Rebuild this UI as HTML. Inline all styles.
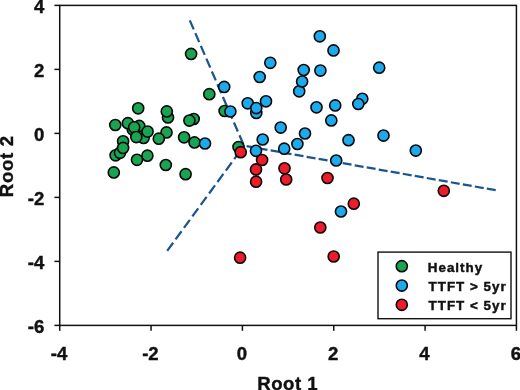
<!DOCTYPE html>
<html><head><meta charset="utf-8"><title>Root plot</title>
<style>
html,body{margin:0;padding:0;background:#fff;}
body{width:520px;height:390px;overflow:hidden;}
svg{display:block;filter:blur(0.4px);}
text{font-family:"Liberation Sans",sans-serif;font-weight:bold;fill:#111;}
</style></head><body>
<div style="will-change:transform;width:520px;height:390px;">
<svg width="520" height="390" viewBox="0 0 520 390">
<rect x="0" y="0" width="520" height="390" fill="#fff"/>
<g fill="none" stroke="#1a5590" stroke-width="2.25">
<line x1="189.8" y1="20.4" x2="244.0" y2="145.7" stroke-dasharray="9.8 4.1"/>
<line x1="167.2" y1="250.8" x2="244.0" y2="145.7" stroke-dasharray="10 4.2"/>
<line x1="495.7" y1="190.2" x2="244.0" y2="145.7" stroke-dasharray="9.0 3.2"/>
</g>
<g stroke="#0a0a0a" stroke-width="1.6">
<circle cx="191.1" cy="53.9" r="5.55" fill="#19a452"/>
<circle cx="209.3" cy="94.2" r="5.55" fill="#19a452"/>
<circle cx="138.2" cy="108.3" r="5.55" fill="#19a452"/>
<circle cx="168.0" cy="117.5" r="5.55" fill="#19a452"/>
<circle cx="166.8" cy="111.4" r="5.55" fill="#19a452"/>
<circle cx="193.7" cy="119.0" r="5.55" fill="#19a452"/>
<circle cx="189.4" cy="120.6" r="5.55" fill="#19a452"/>
<circle cx="115.3" cy="125.0" r="5.55" fill="#19a452"/>
<circle cx="132.8" cy="129.4" r="5.55" fill="#19a452"/>
<circle cx="127.9" cy="123.2" r="5.55" fill="#19a452"/>
<circle cx="139.2" cy="125.9" r="5.55" fill="#19a452"/>
<circle cx="134.2" cy="127.3" r="5.55" fill="#19a452"/>
<circle cx="143.6" cy="138.0" r="5.55" fill="#19a452"/>
<circle cx="136.3" cy="137.1" r="5.55" fill="#19a452"/>
<circle cx="147.6" cy="131.6" r="5.55" fill="#19a452"/>
<circle cx="166.5" cy="132.4" r="5.55" fill="#19a452"/>
<circle cx="158.8" cy="138.7" r="5.55" fill="#19a452"/>
<circle cx="184.1" cy="137.3" r="5.55" fill="#19a452"/>
<circle cx="194.5" cy="142.4" r="5.55" fill="#19a452"/>
<circle cx="123.1" cy="141.3" r="5.55" fill="#19a452"/>
<circle cx="115.6" cy="155.3" r="5.55" fill="#19a452"/>
<circle cx="120.0" cy="152.8" r="5.55" fill="#19a452"/>
<circle cx="123.1" cy="147.9" r="5.55" fill="#19a452"/>
<circle cx="147.4" cy="155.7" r="5.55" fill="#19a452"/>
<circle cx="137.0" cy="159.8" r="5.55" fill="#19a452"/>
<circle cx="165.8" cy="165.0" r="5.55" fill="#19a452"/>
<circle cx="113.8" cy="172.4" r="5.55" fill="#19a452"/>
<circle cx="185.6" cy="174.2" r="5.55" fill="#19a452"/>
<circle cx="224.6" cy="111.0" r="5.55" fill="#19a452"/>
<circle cx="238.5" cy="147.0" r="5.55" fill="#19a452"/>
<circle cx="205.0" cy="143.5" r="5.55" fill="#1caaee"/>
<circle cx="224.2" cy="86.9" r="5.55" fill="#1caaee"/>
<circle cx="230.4" cy="111.5" r="5.55" fill="#1caaee"/>
<circle cx="247.7" cy="103.3" r="5.55" fill="#1caaee"/>
<circle cx="266.0" cy="101.3" r="5.55" fill="#1caaee"/>
<circle cx="256.3" cy="112.9" r="5.55" fill="#1caaee"/>
<circle cx="256.3" cy="108.1" r="5.55" fill="#1caaee"/>
<circle cx="259.7" cy="77.0" r="5.55" fill="#1caaee"/>
<circle cx="270.3" cy="62.8" r="5.55" fill="#1caaee"/>
<circle cx="280.7" cy="127.6" r="5.55" fill="#1caaee"/>
<circle cx="262.7" cy="139.5" r="5.55" fill="#1caaee"/>
<circle cx="256.0" cy="150.8" r="5.55" fill="#1caaee"/>
<circle cx="284.2" cy="148.7" r="5.55" fill="#1caaee"/>
<circle cx="319.8" cy="36.3" r="5.55" fill="#1caaee"/>
<circle cx="333.5" cy="50.4" r="5.55" fill="#1caaee"/>
<circle cx="299.2" cy="91.3" r="5.55" fill="#1caaee"/>
<circle cx="302.1" cy="81.5" r="5.55" fill="#1caaee"/>
<circle cx="303.7" cy="70.0" r="5.55" fill="#1caaee"/>
<circle cx="320.4" cy="70.6" r="5.55" fill="#1caaee"/>
<circle cx="379.2" cy="67.7" r="5.55" fill="#1caaee"/>
<circle cx="316.5" cy="107.3" r="5.55" fill="#1caaee"/>
<circle cx="335.2" cy="105.4" r="5.55" fill="#1caaee"/>
<circle cx="362.3" cy="98.8" r="5.55" fill="#1caaee"/>
<circle cx="358.3" cy="104.0" r="5.55" fill="#1caaee"/>
<circle cx="331.3" cy="120.4" r="5.55" fill="#1caaee"/>
<circle cx="305.0" cy="133.5" r="5.55" fill="#1caaee"/>
<circle cx="297.4" cy="144.0" r="5.55" fill="#1caaee"/>
<circle cx="348.5" cy="140.2" r="5.55" fill="#1caaee"/>
<circle cx="383.5" cy="135.6" r="5.55" fill="#1caaee"/>
<circle cx="415.8" cy="150.6" r="5.55" fill="#1caaee"/>
<circle cx="336.2" cy="160.5" r="5.55" fill="#1caaee"/>
<circle cx="341.0" cy="211.5" r="5.55" fill="#1caaee"/>
<circle cx="240.7" cy="152.2" r="5.55" fill="#ee1c2a"/>
<circle cx="256.0" cy="169.4" r="5.55" fill="#ee1c2a"/>
<circle cx="262.1" cy="160.0" r="5.55" fill="#ee1c2a"/>
<circle cx="256.1" cy="181.7" r="5.55" fill="#ee1c2a"/>
<circle cx="284.5" cy="168.3" r="5.55" fill="#ee1c2a"/>
<circle cx="286.2" cy="179.5" r="5.55" fill="#ee1c2a"/>
<circle cx="327.5" cy="178.0" r="5.55" fill="#ee1c2a"/>
<circle cx="353.8" cy="203.7" r="5.55" fill="#ee1c2a"/>
<circle cx="320.3" cy="227.5" r="5.55" fill="#ee1c2a"/>
<circle cx="240.1" cy="257.7" r="5.55" fill="#ee1c2a"/>
<circle cx="333.7" cy="256.5" r="5.55" fill="#ee1c2a"/>
<circle cx="443.8" cy="190.8" r="5.55" fill="#ee1c2a"/>
</g>
<g stroke="#111" stroke-width="1.5" fill="none">
<rect x="59.72" y="5.40" width="456.70" height="320.00"/>
<line x1="59.72" y1="325.40" x2="59.72" y2="330.80"/>
<line x1="151.06" y1="325.40" x2="151.06" y2="330.80"/>
<line x1="242.40" y1="325.40" x2="242.40" y2="330.80"/>
<line x1="333.74" y1="325.40" x2="333.74" y2="330.80"/>
<line x1="425.08" y1="325.40" x2="425.08" y2="330.80"/>
<line x1="516.42" y1="325.40" x2="516.42" y2="330.80"/>
<line x1="54.42" y1="325.40" x2="59.72" y2="325.40"/>
<line x1="54.42" y1="261.40" x2="59.72" y2="261.40"/>
<line x1="54.42" y1="197.40" x2="59.72" y2="197.40"/>
<line x1="54.42" y1="133.40" x2="59.72" y2="133.40"/>
<line x1="54.42" y1="69.40" x2="59.72" y2="69.40"/>
<line x1="54.42" y1="5.40" x2="59.72" y2="5.40"/>
</g>
<g font-size="18.6px" stroke="#111" stroke-width="0.4">
<text x="59.12" y="359.6" text-anchor="middle">-4</text>
<text x="150.46" y="359.6" text-anchor="middle">-2</text>
<text x="241.80" y="359.6" text-anchor="middle">0</text>
<text x="333.14" y="359.6" text-anchor="middle">2</text>
<text x="424.48" y="359.6" text-anchor="middle">4</text>
<text x="515.82" y="359.6" text-anchor="middle">6</text>
<text x="44.4" y="332.60" text-anchor="end">-6</text>
<text x="44.4" y="268.60" text-anchor="end">-4</text>
<text x="44.4" y="204.60" text-anchor="end">-2</text>
<text x="44.4" y="140.60" text-anchor="end">0</text>
<text x="44.4" y="76.60" text-anchor="end">2</text>
<text x="44.4" y="12.60" text-anchor="end">4</text>

<text x="257.3" y="390.3" textLength="60.4" lengthAdjust="spacing">Root 1</text>
<text transform="translate(13.3,197.2) rotate(-90)" textLength="61.4" lengthAdjust="spacing">Root 2</text>
</g>
<rect x="378" y="252.1" width="133" height="66.6" fill="#fff" stroke="#111" stroke-width="1.4"/>
<g stroke="#0a0a0a" stroke-width="1.6">
<circle cx="401.8" cy="266.2" r="5.55" fill="#19a452"/>
<circle cx="401.8" cy="285.6" r="5.55" fill="#1caaee"/>
<circle cx="401.8" cy="304.8" r="5.55" fill="#ee1c2a"/>
</g>
<g font-size="13.4px" stroke="#111" stroke-width="0.45">
<text x="427.8" y="272.2" textLength="54.4" lengthAdjust="spacing">Healthy</text>
<text x="428.6" y="291.4" textLength="77.0" lengthAdjust="spacing">TTFT &gt; 5yr</text>
<text x="428.6" y="309.8" textLength="77.0" lengthAdjust="spacing">TTFT &lt; 5yr</text>
</g>
</svg>
</div>
</body></html>
